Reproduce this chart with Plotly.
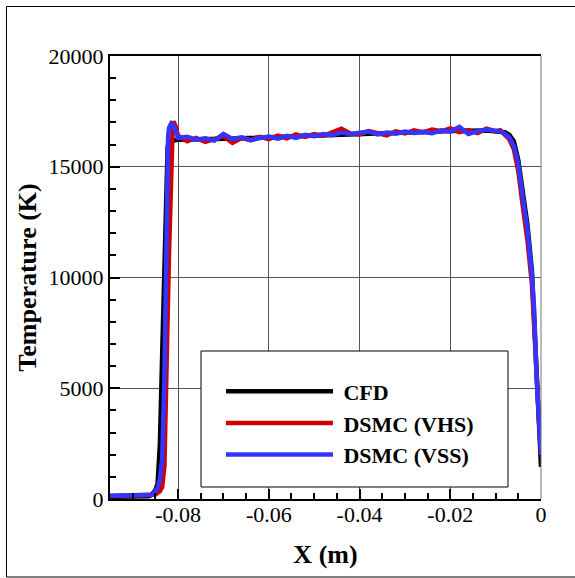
import plotly.graph_objects as go

# CFD solution (smooth)
x_cfd = [-0.095, -0.0875, -0.0865, -0.086, -0.0855, -0.085, -0.0845, -0.084, -0.0835,
         -0.083, -0.0826, -0.0823, -0.082, -0.081, -0.080, -0.070, -0.060, -0.050, -0.040,
         -0.030, -0.020, -0.012, -0.010, -0.008, -0.007, -0.006, -0.005, -0.004,
         -0.003, -0.002, -0.001, -0.0005, 0.0]
t_cfd = [100, 100, 120, 160, 250, 400, 700, 2500, 6500,
         11000, 14500, 15900, 16150, 16200, 16220, 16260, 16330, 16420, 16500,
         16560, 16610, 16640, 16620, 16560, 16450, 16150, 15300, 13900,
         12400, 10300, 5800, 3500, 1450]

# DSMC (VSS)
x_vss = [-0.095, -0.090, -0.088, -0.087, -0.086, -0.0855, -0.085, -0.0845, -0.084,
         -0.0835, -0.083, -0.0828, -0.0826, -0.0824, -0.0822, -0.082, -0.0815,
         -0.081, -0.0805, -0.080,
         -0.078, -0.076, -0.074, -0.072, -0.070, -0.068, -0.066, -0.064, -0.062,
         -0.060, -0.058, -0.056, -0.054, -0.052, -0.050, -0.048, -0.046, -0.044,
         -0.042, -0.040, -0.038, -0.036, -0.034, -0.032, -0.030, -0.028, -0.026,
         -0.024, -0.022, -0.020, -0.018, -0.016, -0.014, -0.012, -0.010,
         -0.009, -0.008, -0.007, -0.006, -0.005, -0.004, -0.003, -0.002, -0.0015,
         -0.001, -0.0005, -0.0002, 0.0]
t_vss = [150, 140, 160, 150, 180, 220, 330, 500, 900,
         1800, 5500, 9000, 12500, 15000, 16300, 16750, 16950,
         16850, 16500, 16300,
         16350, 16220, 16280, 16180, 16480, 16250, 16330, 16200, 16300,
         16360, 16270, 16400, 16300, 16440, 16380, 16480, 16420, 16540,
         16480, 16520, 16590, 16460, 16550, 16490, 16590, 16520, 16570,
         16510, 16640, 16580, 16800, 16480, 16610, 16680, 16620,
         16600, 16500, 16330, 15950, 15150, 13600, 12200, 10100, 8500,
         5600, 3500, 2300, 2000]

# DSMC (VHS)
x_vhs = [-0.095, -0.090, -0.088, -0.087, -0.086, -0.085, -0.084, -0.0835, -0.083,
         -0.0828, -0.0826, -0.0824, -0.082, -0.0817, -0.0814, -0.0812, -0.081,
         -0.0805, -0.080,
         -0.078, -0.076, -0.074, -0.072, -0.070, -0.068, -0.066, -0.064, -0.062,
         -0.060, -0.058, -0.056, -0.054, -0.052, -0.050, -0.048, -0.046, -0.044,
         -0.042, -0.040, -0.038, -0.036, -0.034, -0.032, -0.030, -0.028, -0.026,
         -0.024, -0.022, -0.020, -0.018, -0.016, -0.014, -0.012, -0.010,
         -0.009, -0.008, -0.007, -0.006, -0.005, -0.004, -0.003, -0.002, -0.0015,
         -0.001, -0.0005, -0.0002, 0.0]
t_vhs = [130, 150, 140, 160, 150, 200, 350, 540, 1500,
         3000, 5000, 7200, 11000, 13500, 15800, 16700, 17050,
         16800, 16400,
         16150, 16300, 16120, 16250, 16380, 16080, 16300, 16200, 16350,
         16250, 16400, 16280, 16460, 16350, 16480, 16400, 16580, 16720,
         16500, 16460, 16610, 16520, 16420, 16600, 16500, 16640, 16550,
         16680, 16600, 16730, 16560, 16650, 16520, 16720, 16600,
         16650, 16450, 16250, 15800, 14800, 13200, 11700, 9700, 8000,
         5800, 3700, 2500, 2100]

x_ticks = [-0.08, -0.06, -0.04, -0.02, 0.0]
x_ticktext = ["-0.08", "-0.06", "-0.04", "-0.02", "0"]
y_ticks = [0, 5000, 10000, 15000, 20000]
y_ticktext = ["0", "5000", "10000", "15000", "20000"]

serif = "Liberation Serif"
nb = "\u00a0"

fig = go.Figure()
fig.add_trace(go.Scatter(x=x_cfd, y=t_cfd, mode="lines", name=nb + "CFD",
                         line=dict(color="black", width=4.5)))
fig.add_trace(go.Scatter(x=x_vhs, y=t_vhs, mode="lines", name=nb + "DSMC (VHS)",
                         line=dict(color="#d00000", width=4.5)))
fig.add_trace(go.Scatter(x=x_vss, y=t_vss, mode="lines", name=nb + "DSMC (VSS)",
                         line=dict(color="#3434ff", width=4.5)))

fig.update_layout(
    width=575, height=578,
    margin=dict(l=110, r=34, t=56, b=79),
    paper_bgcolor="white", plot_bgcolor="white",
    font=dict(family=serif, size=22, color="black"),
    showlegend=True,
    legend=dict(x=0.2575, y=0.29, xanchor="left", yanchor="top",
                bgcolor="rgba(0,0,0,0)", borderwidth=0, itemwidth=107,
                font=dict(family=serif, size=22, weight="bold"),
                tracegroupgap=0),
)

fig.update_xaxes(
    range=[-0.095, 0.0], tickvals=x_ticks, ticktext=x_ticktext,
    ticks="inside", ticklen=10, tickwidth=1.5, tickcolor="black",
    minor=dict(dtick=0.005, ticks="inside", ticklen=6, tickcolor="black", showgrid=False),
    showgrid=True, gridcolor="#555555", gridwidth=1,
    showline=True, linecolor="black", linewidth=2, mirror=True,
    zeroline=False, automargin=False, ticklabelstandoff=-5,
    title=dict(text="X (m)", font=dict(family=serif, size=26, weight="bold"), standoff=18),
)
fig.update_yaxes(
    range=[0, 20000], tickvals=y_ticks, ticktext=y_ticktext,
    ticks="inside", ticklen=10, tickwidth=1.5, tickcolor="black",
    minor=dict(dtick=1000, ticks="inside", ticklen=6, tickcolor="black", showgrid=False),
    showgrid=True, gridcolor="#555555", gridwidth=1,
    showline=True, linecolor="black", linewidth=2,
    zeroline=False, automargin=False,
    title=dict(text="Temperature (K)", font=dict(family=serif, size=26, weight="bold"), standoff=4),
)

# right border of the plot frame
fig.add_shape(type="line", xref="paper", yref="paper", x0=1, x1=1, y0=0, y1=1,
              line=dict(color="#777777", width=1))
# legend box
fig.add_shape(type="rect", xref="paper", yref="paper",
              x0=(201 - 110) / 431, x1=(508 - 110) / 431,
              y0=(499 - 487) / 443, y1=(499 - 351) / 443,
              fillcolor="white", line=dict(color="black", width=1), layer="above")
# outer frame
fig.add_shape(type="rect", xref="paper", yref="paper",
              x0=(6.5 - 110) / 431, x1=(590 - 110) / 431,
              y0=(499 - 577) / 443, y1=(499 - 6.5) / 443,
              line=dict(color="black", width=1), layer="below")

fig.write_html("out.html", config={"displayModeBar": False},
               post_script="document.body.style.margin='0';")
